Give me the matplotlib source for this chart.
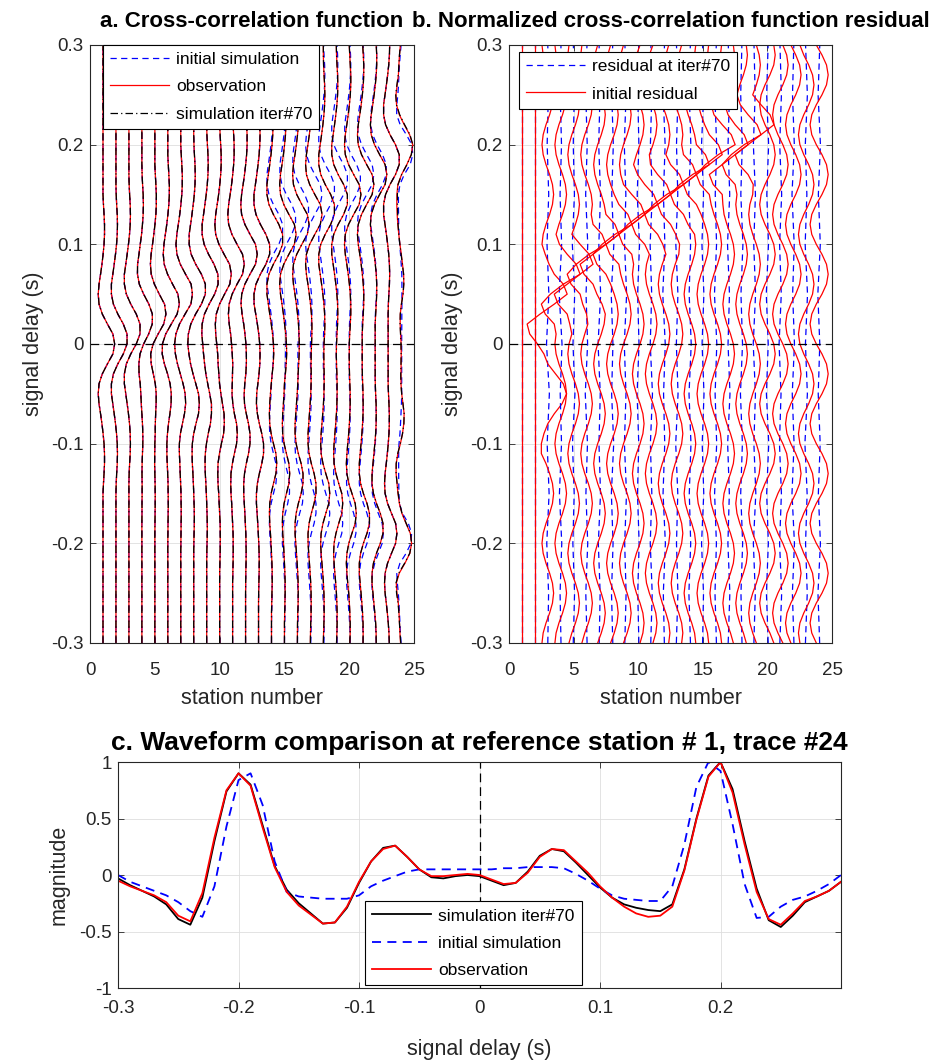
import numpy as np
import matplotlib.pyplot as plt
from matplotlib.lines import Line2D

plt.rcParams['font.family'] = ['Liberation Sans', 'DejaVu Sans']
plt.rcParams['axes.unicode_minus'] = False

# delay samples (s), 10 ms step
delay = np.linspace(-0.3, 0.3, 61)
# coarser delay samples for the iter#70 residual (50 ms step)
delay_coarse = np.linspace(-0.3, 0.3, 13)

stations = list(range(1, 25))

# ---- reference station #1, trace #24 ----
obs_c = [-.05, -.10, -.14, -.18, -.24, -.36, -.41, -.16, .33, .75,
         .90, .79, .42, .07, -.15, -.27, -.35, -.43, -.42, -.28,
         -.06, .12, .23, .26, .16, .05, -.01, -.01, .00, .01,
         .00, -.04, -.08, -.07, .02, .16, .23, .22, .12, .02,
         -.10, -.20, -.28, -.34, -.37, -.36, -.28, .04, .49, .87,
         1.0, .73, .27, -.15, -.39, -.44, -.34, -.23, -.19, -.14, -.06]
iter70_c = [-.03, -.09, -.14, -.19, -.26, -.39, -.44, -.20, .30, .74,
            .90, .80, .44, .08, -.13, -.25, -.34, -.43, -.42, -.29,
            -.07, .12, .24, .26, .16, .05, -.02, -.03, -.01, .00,
            -.01, -.05, -.09, -.07, .03, .17, .23, .21, .11, .00,
            -.11, -.20, -.26, -.29, -.31, -.32, -.26, .05, .50, .88,
            1.0, .76, .30, -.12, -.40, -.46, -.36, -.24, -.19, -.14, -.06]
init_c = [.00, -.06, -.10, -.14, -.18, -.24, -.32, -.37, -.10, .43,
          .84, .90, .62, .12, -.15, -.19, -.20, -.21, -.21, -.21,
          -.18, -.10, -.05, -.01, .03, .05, .05, .05, .05, .05,
          .05, .05, .06, .06, .07, .07, .07, .06, .01, -.05,
          -.12, -.18, -.21, -.22, -.23, -.23, -.10, .27, .78, 1.0,
          .92, .45, -.08, -.38, -.37, -.28, -.22, -.19, -.14, -.08, .00]

# ---- observed cross-correlation, stations 1-23 (peak-normalised) ----
obs_a = [
    [0, 0, 0, 0, 0, 0, 0, 0, 0, 0, 0, 0, 0, 0, 0, 0, .04, .09, .13, .13, .09, .01, -.09, -.21, -.34, -.41, -.34, -.06, .38, .85,
     1.0, .85, .38, -.06, -.34, -.41, -.34, -.21, -.09, .01, .09, .13, .13, .09, .04, 0, 0, 0, 0, 0, 0, 0, 0, 0, 0, 0, 0, 0, 0, 0, 0],
    [0, 0, 0, 0, 0, 0, 0, 0, 0, 0, 0, 0, 0, 0, 0, 0, .02, .06, .11, .13, .11, .05, -.04, -.15, -.27, -.39, -.39, -.22, .16, .63,
     .95, .95, .63, .16, -.22, -.39, -.39, -.27, -.15, -.04, .05, .11, .13, .11, .06, .02, 0, 0, 0, 0, 0, 0, 0, 0, 0, 0, 0, 0, 0, 0, 0],
    [0, 0, 0, 0, 0, 0, 0, 0, 0, 0, 0, 0, 0, 0, 0, 0, 0, .02, .06, .11, .13, .11, .05, -.04, -.15, -.27, -.39, -.39, -.22, .16,
     .63, .95, .95, .63, .16, -.22, -.39, -.39, -.27, -.15, -.04, .05, .11, .13, .11, .06, .02, 0, 0, 0, 0, 0, 0, 0, 0, 0, 0, 0, 0, 0, 0],
    [0, 0, 0, 0, 0, 0, 0, 0, 0, 0, 0, 0, 0, .01, .01, .02, .02, .01, .02, .05, .08, .08, .05, 0, -.05, -.09, -.14, -.24, -.26, -.16,
     .15, .58, .89, .90, .60, .15, -.22, -.38, -.37, -.25, -.14, -.03, .05, .11, .13, .11, .06, .02, 0, 0, 0, 0, 0, 0, 0, 0, 0, 0, 0, 0, 0],
    [0, 0, 0, 0, 0, 0, 0, 0, 0, 0, 0, 0, .01, .02, .03, .03, .02, 0, -.02, -.01, 0, .03, .04, .07, .11, .12, .04, -.13, -.31, -.36,
     -.15, .28, .76, .95, .83, .38, -.04, -.31, -.38, -.32, -.20, -.09, .01, .09, .13, .13, .09, .04, 0, 0, 0, 0, 0, 0, 0, 0, 0, 0, 0, 0, 0],
    [0, 0, 0, 0, 0, 0, 0, 0, 0, 0, 0, .01, .02, .03, .04, .03, .02, -.01, -.05, -.08, -.08, -.03, .06, .18, .28, .30, .20, -.02, -.29, -.48,
     -.46, -.18, .30, .80, .99, .87, .41, -.02, -.31, -.39, -.33, -.21, -.09, .01, .09, .13, .13, .09, .04, 0, 0, 0, 0, 0, 0, 0, 0, 0, 0, 0, 0],
    [0, 0, 0, 0, 0, 0, 0, 0, 0, 0, .01, .02, .03, .04, .03, .02, -.01, -.05, -.08, -.12, -.12, -.03, .14, .32, .42, .38, .20, -.04, -.28, -.46,
     -.53, -.42, -.11, .37, .87, 1.0, .89, .41, -.04, -.33, -.41, -.34, -.21, -.09, .01, .09, .13, .13, .09, .04, 0, 0, 0, 0, 0, 0, 0, 0, 0, 0, 0],
    [0, 0, 0, 0, 0, 0, 0, 0, 0, 0, .01, .03, .05, .05, .03, 0, -.03, -.07, -.12, -.14, -.12, 0, .19, .41, .48, .41, .18, -.06, -.27, -.41,
     -.51, -.46, -.25, .16, .66, 1.0, 1.0, .66, .17, -.22, -.39, -.39, -.27, -.15, -.04, .05, .11, .13, .11, .06, .02, 0, 0, 0, 0, 0, 0, 0, 0, 0, 0],
    [0, 0, 0, 0, 0, 0, 0, 0, 0, .01, .03, .05, .05, .03, 0, -.03, -.07, -.12, -.14, -.12, -.02, .13, .32, .41, .41, .26, .09, -.07, -.18, -.27,
     -.34, -.42, -.39, -.19, .21, .68, .98, .96, .63, .16, -.22, -.39, -.39, -.27, -.15, -.04, .05, .11, .13, .11, .06, .02, 0, 0, 0, 0, 0, 0, 0, 0, 0],
    [0, 0, 0, 0, 0, 0, 0, 0, .02, .04, .05, .05, .04, 0, -.04, -.08, -.14, -.16, -.14, -.02, .15, .34, .40, .38, .24, .11, -.01, -.07, -.13, -.17,
     -.25, -.34, -.37, -.29, -.01, .42, .87, 1.0, .85, .38, -.06, -.34, -.41, -.34, -.21, -.09, .01, .09, .13, .13, .09, .04, 0, 0, 0, 0, 0, 0, 0, 0, 0],
    [0, 0, 0, 0, 0, 0, 0, .02, .04, .05, .05, .04, 0, -.04, -.08, -.14, -.16, -.14, -.02, .15, .34, .40, .34, .15, .02, -.05, -.03, -.01, .01, -.03,
     -.09, -.17, -.29, -.36, -.30, -.04, .38, .85, 1.0, .85, .38, -.06, -.34, -.41, -.34, -.21, -.09, .01, .09, .13, .13, .09, .04, 0, 0, 0, 0, 0, 0, 0, 0],
    [0, 0, 0, 0, 0, 0, .01, .02, .04, .05, .04, .02, -.02, -.06, -.11, -.16, -.16, -.09, .06, .25, .38, .38, .25, .06, -.09, -.12, -.07, .02, .07, .07,
     .03, -.05, -.16, -.30, -.39, -.33, -.06, .38, .85, 1.0, .85, .38, -.06, -.34, -.41, -.34, -.21, -.09, .01, .09, .13, .13, .09, .04, 0, 0, 0, 0, 0, 0, 0],
    [0, 0, 0, 0, 0, .01, .03, .05, .06, .05, .02, -.02, -.07, -.12, -.18, -.18, -.10, .07, .28, .43, .43, .28, .07, -.10, -.18, -.16, -.06, .04, .11, .13,
     .10, .02, -.10, -.24, -.38, -.39, -.22, .16, .63, .95, .95, .63, .16, -.22, -.39, -.39, -.27, -.15, -.04, .05, .11, .13, .11, .06, .02, 0, 0, 0, 0, 0, 0],
    [0, 0, 0, 0, .02, .04, .06, .06, .04, 0, -.04, -.09, -.15, -.18, -.15, -.03, .17, .38, .45, .38, .17, -.03, -.15, -.18, -.15, -.09, -.02, .06, .15, .19,
     .17, .09, -.02, -.15, -.27, -.39, -.39, -.22, .16, .63, .95, .95, .63, .16, -.22, -.39, -.39, -.27, -.15, -.04, .05, .11, .13, .11, .06, .02, 0, 0, 0, 0, 0],
    [0, 0, 0, .02, .04, .06, .06, .04, 0, -.04, -.09, -.15, -.18, -.15, -.03, .17, .38, .45, .38, .17, -.03, -.15, -.18, -.15, -.09, -.04, 0, .08, .15, .19,
     .17, .11, .01, -.09, -.21, -.34, -.41, -.34, -.06, .38, .85, 1.0, .85, .38, -.06, -.34, -.41, -.34, -.21, -.09, .01, .09, .13, .13, .09, .04, 0, 0, 0, 0, 0],
    [0, 0, .01, .03, .06, .07, .06, .03, -.02, -.08, -.14, -.20, -.20, -.11, .08, .32, .48, .48, .32, .08, -.11, -.20, -.20, -.14, -.08, -.02, .03, .06, .11, .15,
     .16, .14, .09, .01, -.09, -.21, -.34, -.41, -.34, -.06, .38, .85, 1.0, .85, .38, -.06, -.34, -.41, -.34, -.21, -.09, .01, .09, .13, .13, .09, .04, 0, 0, 0, 0],
    [0, .01, .03, .06, .07, .06, .03, -.02, -.08, -.14, -.20, -.20, -.11, .08, .32, .48, .48, .32, .08, -.11, -.20, -.20, -.14, -.08, -.02, .03, .06, .07, .06, .07,
     .10, .13, .13, .09, .01, -.09, -.21, -.34, -.41, -.34, -.06, .38, .85, 1.0, .85, .38, -.06, -.34, -.41, -.34, -.21, -.09, .01, .09, .13, .13, .09, .04, 0, 0, 0],
    [0, .02, .05, .07, .07, .05, .01, -.05, -.12, -.19, -.23, -.19, -.03, .21, .47, .55, .47, .21, -.03, -.19, -.23, -.19, -.12, -.05, .01, .05, .07, .07, .05, .04,
     .06, .11, .13, .11, .05, -.04, -.15, -.27, -.39, -.39, -.22, .16, .63, .95, .95, .63, .16, -.22, -.39, -.39, -.27, -.15, -.04, .05, .11, .13, .11, .06, .02, 0, 0],
    [.02, .05, .07, .07, .05, .01, -.05, -.12, -.19, -.23, -.19, -.03, .21, .47, .55, .47, .21, -.03, -.19, -.23, -.19, -.12, -.05, .01, .05, .07, .07, .05, .02, 0,
     .02, .06, .11, .13, .11, .05, -.04, -.15, -.27, -.39, -.39, -.22, .16, .63, .95, .95, .63, .16, -.22, -.39, -.39, -.27, -.15, -.04, .05, .11, .13, .11, .06, .02, 0],
    [.05, .08, .08, .05, .01, -.05, -.13, -.20, -.25, -.20, -.04, .23, .51, .60, .51, .23, -.04, -.20, -.25, -.20, -.13, -.05, .01, .05, .08, .08, .05, .02, 0, 0,
     0, .04, .09, .13, .13, .09, .01, -.09, -.21, -.34, -.41, -.34, -.06, .38, .85, 1.0, .85, .38, -.06, -.34, -.41, -.34, -.21, -.09, .01, .09, .13, .13, .09, .04, 0],
    [.07, .08, .07, .03, -.03, -.10, -.18, -.25, -.25, -.14, .10, .41, .62, .62, .41, .10, -.14, -.25, -.25, -.18, -.10, -.03, .03, .07, .08, .07, .04, .01, 0, 0,
     0, 0, .04, .09, .13, .13, .09, .01, -.09, -.21, -.34, -.41, -.34, -.06, .38, .85, 1.0, .85, .38, -.06, -.34, -.41, -.34, -.21, -.09, .01, .09, .13, .13, .09, .04],
    [.09, .08, .04, -.03, -.11, -.19, -.27, -.27, -.15, .11, .44, .67, .67, .44, .11, -.15, -.27, -.27, -.19, -.11, -.03, .04, .08, .09, .08, .04, .01, 0, 0, 0,
     0, 0, 0, .04, .09, .13, .13, .09, .01, -.09, -.21, -.34, -.41, -.34, -.06, .38, .85, 1.0, .85, .38, -.06, -.34, -.41, -.34, -.21, -.09, .01, .09, .13, .13, .09],
    [.10, .07, .01, -.07, -.16, -.26, -.31, -.26, -.05, .29, .64, .75, .64, .29, -.05, -.26, -.31, -.26, -.16, -.07, .01, .07, .10, .10, .07, .03, 0, 0, 0, 0,
     0, 0, 0, 0, .02, .06, .11, .13, .11, .05, -.04, -.15, -.27, -.39, -.39, -.22, .16, .63, .95, .95, .63, .16, -.22, -.39, -.39, -.27, -.15, -.04, .05, .11, .13],
]

# initial simulation where it departs from the observation (stations 14-22)
init_far = [
    [0, 0, 0, .02, .04, .06, .06, .04, 0, -.04, -.09, -.15, -.18, -.15, -.03, .17, .38, .45, .38, .17, -.03, -.15, -.18, -.15, -.09, -.04, 0, .06, .12, .17,
     .17, .13, .05, -.04, -.15, -.27, -.39, -.39, -.22, .16, .63, .95, .95, .63, .16, -.22, -.39, -.39, -.27, -.15, -.04, .05, .11, .13, .11, .06, .02, 0, 0, 0, 0],
    [0, .01, .03, .05, .06, .05, .02, -.02, -.07, -.12, -.18, -.18, -.10, .07, .28, .43, .43, .28, .07, -.10, -.18, -.18, -.12, -.07, -.02, .02, .05, .06, .07, .09,
     .12, .13, .11, .05, -.04, -.15, -.27, -.39, -.39, -.22, .16, .63, .95, .95, .63, .16, -.22, -.39, -.39, -.27, -.15, -.04, .05, .11, .13, .11, .06, .02, 0, 0, 0],
    [0, .02, .05, .07, .07, .05, .01, -.05, -.11, -.17, -.21, -.17, -.03, .19, .43, .50, .43, .19, -.03, -.17, -.21, -.17, -.11, -.05, .01, .05, .07, .07, .05, .04,
     .06, .11, .13, .11, .05, -.04, -.15, -.27, -.39, -.39, -.22, .16, .63, .95, .95, .63, .16, -.22, -.39, -.39, -.27, -.15, -.04, .05, .11, .13, .11, .06, .02, 0, 0],
    [.03, .06, .07, .06, .03, -.02, -.08, -.14, -.20, -.20, -.11, .08, .32, .48, .48, .32, .08, -.11, -.20, -.20, -.14, -.08, -.02, .03, .06, .07, .06, .03, .01, 0,
     0, .04, .09, .13, .13, .09, .01, -.09, -.21, -.34, -.41, -.34, -.06, .38, .85, 1.0, .85, .38, -.06, -.34, -.41, -.34, -.21, -.09, .01, .09, .13, .13, .09, .04, 0],
    [.05, .07, .07, .05, .01, -.05, -.12, -.19, -.23, -.19, -.03, .21, .47, .55, .47, .21, -.03, -.19, -.23, -.19, -.12, -.05, .01, .05, .07, .07, .05, .02, 0, 0,
     0, .02, .06, .11, .13, .11, .05, -.04, -.15, -.27, -.39, -.39, -.22, .16, .63, .95, .95, .63, .16, -.22, -.39, -.39, -.27, -.15, -.04, .05, .11, .13, .11, .06, .02],
    [.07, .07, .05, .01, -.05, -.12, -.19, -.23, -.19, -.03, .21, .47, .55, .47, .21, -.03, -.19, -.23, -.19, -.12, -.05, .01, .05, .07, .07, .05, .02, 0, 0, 0,
     0, 0, .02, .06, .11, .13, .11, .05, -.04, -.15, -.27, -.39, -.39, -.22, .16, .63, .95, .95, .63, .16, -.22, -.39, -.39, -.27, -.15, -.04, .05, .11, .13, .11, .06],
    [.08, .07, .03, -.02, -.09, -.16, -.23, -.23, -.13, .10, .38, .57, .57, .38, .10, -.13, -.23, -.23, -.16, -.09, -.02, .03, .07, .08, .07, .04, .01, 0, 0, 0,
     0, 0, .02, .06, .11, .13, .11, .05, -.04, -.15, -.27, -.39, -.39, -.22, .16, .63, .95, .95, .63, .16, -.22, -.39, -.39, -.27, -.15, -.04, .05, .11, .13, .11, .06],
    [.08, .07, .03, -.03, -.10, -.18, -.25, -.25, -.14, .10, .41, .62, .62, .41, .10, -.14, -.25, -.25, -.18, -.10, -.03, .03, .07, .08, .07, .04, .01, 0, 0, 0,
     0, 0, 0, .04, .09, .13, .13, .09, .01, -.09, -.21, -.34, -.41, -.34, -.06, .38, .85, 1.0, .85, .38, -.06, -.34, -.41, -.34, -.21, -.09, .01, .09, .13, .13, .09],
    [.09, .06, .01, -.06, -.15, -.24, -.29, -.24, -.04, .27, .60, .70, .60, .27, -.04, -.24, -.29, -.24, -.15, -.06, .01, .06, .09, .09, .06, .03, 0, 0, 0, 0,
     0, 0, 0, .02, .06, .11, .13, .11, .05, -.04, -.15, -.27, -.39, -.39, -.22, .16, .63, .95, .95, .63, .16, -.22, -.39, -.39, -.27, -.15, -.04, .05, .11, .13, .11],
]
# stations 1-13 and 23: initial simulation lies on the observation
init_a = obs_a[:13] + init_far + obs_a[22:]
# iteration 70 overlays the observation for stations 1-23
iter70_a = obs_a

# ---- normalised initial residual, stations 1-24 (station units) ----
resid_init = [
    [0, 0, 0, 0, 0, 0, 0, 0, 0, 0, 0, 0, 0, 0, 0, 0, 0, 0, 0, 0, 0, 0, 0, 0, 0, 0, 0, 0, 0, 0,
     0, 0, 0, 0, 0, 0, 0, 0, 0, 0, 0, 0, 0, 0, 0, 0, 0, 0, 0, 0, 0, 0, 0, 0, 0, 0, 0, 0, 0, 0, 0],
    [0, 0, 0, 0, 0, 0, 0, 0, 0, 0, 0, 0, 0, 0, 0, 0, 0, 0, 0, 0, 0, 0, 0, 0, 0, 0, 0, 0, 0, 0,
     0, 0, 0, 0, 0, 0, 0, 0, 0, 0, 0, 0, 0, 0, 0, 0, 0, 0, 0, 0, 0, 0, 0, 0, 0, 0, 0, 0, 0, 0, 0],
    [-.45, -.36, -.14, .14, .36, .45, .36, .14, -.14, -.36, -.45, -.36, -.14, .14, .36, .45, .36, .14, -.14, -.5,
     -.5, -.3, 0, .5, 1.1, 1.45, 1.2, .6, 0, -.3, -.8, -1.4, -1.6, -.6, .5, 1.5, 1.2, .5, .1, -.2,
     -.45, -.36, -.14, .14, .36, .45, .36, .14, -.14, -.36, -.45, -.36, -.14, .14, .36, .45, .36, .14, -.14, -.36, -.45],
    [-.45, -.36, -.14, .14, .36, .45, .36, .14, -.14, -.36, -.45, -.36, -.14, .14, .36, .45, .36, .14, -.14, -.36,
     -.45, -.36, -.14, .14, .36, .45, .36, .14, -.14, -.36, -.45, -.36, -.5, -1.2, -1.5, -.8, .2, 1.5, 1.2, .5,
     -.1, -.36, -.14, .14, .36, .45, .36, .14, -.14, -.36, -.45, -.36, -.14, .14, .36, .45, .36, .14, -.14, -.36, -.45],
    [-.36, -.14, .14, .36, .45, .36, .14, -.14, -.36, -.45, -.36, -.14, .14, .36, .45, .36, .14, -.14, -.36, -.45,
     -.36, -.14, .14, .36, .45, .36, .14, -.14, -.36, -.45, -.36, -.14, -.3, -.5, -1.2, -1.5, -.5, .5, 1.5, 1.2,
     .5, -.14, .14, .36, .45, .36, .14, -.14, -.36, -.45, -.36, -.14, .14, .36, .45, .36, .14, -.14, -.36, -.45, -.36],
    [-.36, -.14, .14, .36, .45, .36, .14, -.14, -.36, -.45, -.36, -.14, .14, .36, .45, .36, .14, -.14, -.36, -.45,
     -.36, -.14, .14, .36, .45, .36, .14, -.14, -.36, -.45, -.36, -.14, .1, 0, -.3, -.5, -1.2, -1.5, -.8, .2,
     1.5, 1.2, .5, .36, .45, .36, .14, -.14, -.36, -.45, -.36, -.14, .14, .36, .45, .36, .14, -.14, -.36, -.45, -.36],
    [-.14, .14, .36, .45, .36, .14, -.14, -.36, -.45, -.36, -.14, .14, .36, .45, .36, .14, -.14, -.36, -.45, -.36,
     -.14, .14, .36, .45, .36, .14, -.14, -.36, -.45, -.36, -.14, .14, .36, .45, .2, -.2, -.5, -1.2, -1.5, -.5,
     .5, 1.5, 1.2, .5, .36, .14, -.14, -.36, -.45, -.36, -.14, .14, .36, .45, .36, .14, -.14, -.36, -.45, -.36, -.14],
    [-.14, .14, .36, .45, .36, .14, -.14, -.36, -.45, -.36, -.14, .14, .36, .45, .36, .14, -.14, -.36, -.45, -.36,
     -.14, .14, .36, .45, .36, .14, -.14, -.36, -.45, -.36, -.14, .14, .36, .45, .36, .14, -.14, -.5, -1.2, -1.5,
     -.8, .2, 1.5, 1.2, .5, .14, -.14, -.36, -.45, -.36, -.14, .14, .36, .45, .36, .14, -.14, -.36, -.45, -.36, -.14],
    [-.14, .14, .36, .45, .36, .14, -.14, -.36, -.45, -.36, -.14, .14, .36, .45, .36, .14, -.14, -.36, -.45, -.36,
     -.14, .14, .36, .45, .36, .14, -.14, -.36, -.45, -.36, -.14, .14, .36, .45, .36, .14, -.14, -.36, -.5, -1.2,
     -1.5, -.5, .5, 1.5, 1.2, .5, -.14, -.36, -.45, -.36, -.14, .14, .36, .45, .36, .14, -.14, -.36, -.45, -.36, -.14],
    [.14, .36, .45, .36, .14, -.14, -.36, -.45, -.36, -.14, .14, .36, .45, .36, .14, -.14, -.36, -.45, -.36, -.14,
     .14, .36, .45, .36, .14, -.14, -.36, -.45, -.36, -.14, .14, .36, .45, .36, .14, -.14, -.36, -.45, -.36, -.5,
     -1.2, -1.5, -.8, .2, 1.5, 1.2, .5, -.05, -.36, -.14, .14, .36, .45, .36, .14, -.14, -.36, -.45, -.36, -.14, .14],
    [.14, .36, .45, .36, .14, -.14, -.36, -.45, -.36, -.14, .14, .36, .45, .36, .14, -.14, -.36, -.45, -.36, -.14,
     .14, .36, .45, .36, .14, -.14, -.36, -.45, -.36, -.14, .14, .36, .45, .36, .14, -.14, -.36, -.45, -.36, -.14,
     -.5, -1.2, -1.5, -.5, .5, 1.5, 1.2, .5, -.05, -.14, .14, .36, .45, .36, .14, -.14, -.36, -.45, -.36, -.14, .14],
    [.36, .45, .36, .14, -.14, -.36, -.45, -.36, -.14, .14, .36, .45, .36, .14, -.14, -.36, -.45, -.36, -.14, .14,
     .36, .45, .36, .14, -.14, -.36, -.45, -.36, -.14, .14, .36, .45, .36, .14, -.14, -.36, -.45, -.36, -.14, .14,
     -.1, -.5, -1.2, -1.5, -.8, .2, 1.5, 1.2, .5, .14, .36, .45, .36, .14, -.14, -.36, -.45, -.36, -.14, .14, .36],
    [.36, .45, .36, .14, -.14, -.36, -.45, -.36, -.14, .14, .36, .45, .36, .14, -.14, -.36, -.45, -.36, -.14, .14,
     .36, .45, .36, .14, -.14, -.36, -.45, -.36, -.14, .14, .36, .45, .36, .14, -.14, -.36, -.45, -.36, -.14, .14,
     .2, -.1, -.5, -1.2, -1.5, -.5, .5, 1.5, 1.2, .5, .36, .45, .36, .14, -.14, -.36, -.45, -.36, -.14, .14, .36],
    [.45, .36, .14, -.14, -.36, -.45, -.36, -.14, .14, .36, .45, .36, .14, -.14, -.36, -.45, -.36, -.14, .14, .36,
     .45, .36, .14, -.14, -.36, -.45, -.36, -.14, .14, .36, .45, .36, .14, -.14, -.36, -.45, -.36, -.14, .14, .36,
     .45, .36, -.15, -.5, -1.2, -1.5, -.8, .2, 1.5, 1.2, .5, .36, .14, -.14, -.36, -.45, -.36, -.14, .14, .36, .45],
    [.45, .36, .14, -.14, -.36, -.45, -.36, -.14, .14, .36, .45, .36, .14, -.14, -.36, -.45, -.36, -.14, .14, .36,
     .45, .36, .14, -.14, -.36, -.45, -.36, -.14, .14, .36, .45, .36, .14, -.14, -.36, -.45, -.36, -.14, .14, .36,
     .45, .36, .14, -.14, -.5, -1.2, -1.5, -.5, .5, 1.5, 1.2, .5, .14, -.14, -.36, -.45, -.36, -.14, .14, .36, .45],
    [.45, .36, .14, -.14, -.36, -.45, -.36, -.14, .14, .36, .45, .36, .14, -.14, -.36, -.45, -.36, -.14, .14, .36,
     .45, .36, .14, -.14, -.36, -.45, -.36, -.14, .14, .36, .45, .36, .14, -.14, -.36, -.45, -.36, -.14, .14, .36,
     .45, .36, .14, -.14, -.36, -.5, -1.2, -1.5, -.8, .2, 1.5, 1.2, .5, -.14, -.36, -.45, -.36, -.14, .14, .36, .45],
    [.36, .14, -.14, -.36, -.45, -.36, -.14, .14, .36, .45, .36, .14, -.14, -.36, -.45, -.36, -.14, .14, .36, .45,
     .36, .14, -.14, -.36, -.45, -.36, -.14, .14, .36, .45, .36, .14, -.14, -.36, -.45, -.36, -.14, .14, .36, .45,
     .36, .14, -.14, -.36, -.45, -.5, -1.2, -1.5, -.5, .5, 1.5, 1.2, .5, -.05, -.3, -.36, -.14, .14, .36, .45, .36],
    [.36, .14, -.14, -.36, -.45, -.36, -.14, .14, .36, .45, .36, .14, -.14, -.36, -.45, -.36, -.14, .14, .36, .45,
     .36, .14, -.14, -.36, -.45, -.36, -.14, .14, .36, .45, .36, .14, -.14, -.36, -.45, -.36, -.14, .14, .36, .45,
     .36, .14, -.14, -.36, -.45, -.36, -.5, -1.2, -1.5, -.8, .2, 1.5, 1.2, .5, -.1, -.36, -.14, .14, .36, .45, .36],
    [.14, -.14, -.36, -.45, -.36, -.14, .14, .36, .45, .36, .14, -.14, -.36, -.45, -.36, -.14, .14, .36, .45, .36,
     .14, -.14, -.36, -.45, -.36, -.14, .14, .36, .45, .36, .14, -.14, -.36, -.45, -.36, -.14, .14, .36, .45, .36,
     .14, -.14, -.36, -.45, -.36, -.14, -.1, -.5, -1.2, -1.5, -.5, .5, 1.5, 1.2, .5, -.14, .14, .36, .45, .36, .14],
    [.49, .19, -.19, -.49, -.6, -.49, -.19, .19, .49, .6, .49, .19, -.19, -.49, -.6, -.49, -.19, .19, .49, .6,
     .49, .19, -.19, -.49, -.6, -.49, -.19, .19, .49, .6, .49, .19, -.19, -.49, -.6, -.49, -.19, .19, .49, .6,
     .49, .19, -.19, -.49, -.6, -.49, -.19, .19, .49, .6, .49, .19, -.19, -.49, -.6, -.49, -.19, .19, .49, .6, .49],
    [.19, -.19, -.49, -.6, -.49, -.19, .19, .49, .6, .49, .19, -.19, -.49, -.6, -.49, -.19, .19, .49, .6, .49,
     .19, -.19, -.49, -.6, -.49, -.19, .19, .49, .6, .49, .19, -.19, -.49, -.6, -.49, -.19, .19, .49, .6, .49,
     .19, -.19, -.49, -.6, -.49, -.19, .19, .49, .6, .49, .19, -.19, -.49, -.6, -.49, -.19, .19, .49, .6, .49, .19],
    [-.19, -.49, -.6, -.49, -.19, .19, .49, .6, .49, .19, -.19, -.49, -.6, -.49, -.19, .19, .49, .6, .49, .19,
     -.19, -.49, -.6, -.49, -.19, .19, .49, .6, .49, .19, -.19, -.49, -.6, -.49, -.19, .19, .49, .6, .49, .19,
     -.19, -.49, -.6, -.49, -.19, .19, .49, .6, .49, .19, -.19, -.49, -.6, -.49, -.19, .19, .49, .6, .49, .19, -.19],
    [-.49, -.6, -.49, -.19, .19, .49, .6, .49, .19, -.19, -.49, -.6, -.49, -.19, .19, .49, .6, .49, .19, -.19,
     -.49, -.6, -.49, -.19, .19, .49, .6, .49, .19, -.19, -.49, -.6, -.49, -.19, .19, .49, .6, .49, .19, -.19,
     -.49, -.6, -.49, -.19, .19, .49, .6, .49, .19, -.19, -.49, -.6, -.49, -.19, .19, .49, .6, .49, .19, -.19, -.49],
    [-.22, -.57, -.7, -.57, -.22, .22, .57, .7, .57, .22, -.22, -.57, -.7, -.57, -.22, .22, .57, .7, .57, .22,
     -.22, -.57, -.7, -.57, -.22, .22, .57, .7, .57, .22, -.22, -.57, -.7, -.57, -.22, .22, .57, .7, .57, .22,
     -.22, -.57, -.7, -.57, -.22, .22, .57, .7, .57, .22, -.22, -.57, -.7, -.57, -.22, .22, .57, .7, .57, .22, -.22],
]

# ---- residual after 70 iterations, stations 1-24 (station units, 50 ms step) ----
resid_iter = [
    [0, 0, 0, 0, 0, 0, 0, 0, 0, 0, 0, 0, 0],
    [0, 0, 0, 0, 0, 0, 0, 0, 0, 0, 0, 0, 0],
    [0, .06, -.08, .10, -.05, .12, -.10, .08, -.06, .07, -.05, .04, 0],
    [.02, -.05, .08, -.10, .06, -.04, .10, -.12, .07, -.05, .06, -.04, .02],
    [-.03, .07, -.06, .04, -.09, .10, -.05, .08, -.10, .06, -.03, .05, -.02],
    [.04, -.06, .09, -.05, .07, -.10, .08, -.04, .09, -.07, .05, -.06, .03],
    [-.02, .05, -.09, .08, -.04, .06, -.11, .09, -.05, .08, -.06, .04, -.03],
    [.03, -.07, .05, -.08, .10, -.06, .04, -.09, .11, -.05, .07, -.05, .02],
    [-.04, .06, -.05, .09, -.07, .05, -.08, .10, -.06, .04, -.08, .06, -.03],
    [.05, -.04, .07, -.06, .04, -.09, .06, -.05, .10, -.08, .05, -.04, .04],
    [-.03, .08, -.07, .05, -.06, .10, -.07, .04, -.08, .09, -.06, .05, -.02],
    [.02, -.06, .10, -.08, .05, -.04, .09, -.10, .06, -.05, .08, -.07, .03],
    [-.05, .07, -.04, .06, -.10, .08, -.05, .07, -.09, .06, -.04, .08, -.04],
    [.04, -.08, .06, -.05, .08, -.07, .10, -.06, .05, -.09, .07, -.05, .03],
    [-.02, .05, -.10, .07, -.05, .09, -.06, .08, -.07, .05, -.10, .06, -.02],
    [.05, -.06, .05, -.09, .07, -.05, .08, -.10, .06, -.04, .07, -.08, .04],
    [-.04, .09, -.06, .05, -.08, .10, -.05, .06, -.09, .08, -.05, .06, -.03],
    [.03, -.05, .08, -.07, .06, -.09, .07, -.05, .10, -.06, .05, -.07, .02],
    [-.05, .06, -.09, .10, -.05, .07, -.10, .08, -.06, .07, -.09, .05, -.04],
    [.06, -.08, .07, -.06, .10, -.08, .06, -.09, .08, -.05, .09, -.06, .05],
    [-.04, .10, -.06, .08, -.07, .05, -.10, .07, -.06, .10, -.05, .08, -.03],
    [.05, -.07, .09, -.10, .06, -.08, .09, -.05, .07, -.10, .08, -.06, .04],
    [-.06, .08, -.05, .07, -.10, .09, -.06, .10, -.08, .05, -.07, .09, -.05],
    [.04, -.09, .10, -.06, .08, -.07, .05, -.10, .09, -.06, .10, -.08, .05],
]

gain = 0.9          # trace amplitude in station units
lw = 0.9
c_blue, c_red, c_black = '#0000ff', '#ff0000', '#000000'
dash_blue = (5, 3.5)
dash_black = (6, 2.5, 1, 2.5)
ink = '#262626'
delay_ticks = [-0.3, -0.2, -0.1, 0, 0.1, 0.2, 0.3]
delay_labels = ['-0.3', '-0.2', '-0.1', '0', '0.1', '0.2', '0.3']


def style_axes(ax, xpad):
    ax.tick_params(direction='in', top=True, right=True, length=4,
                   width=0.6, colors=ink, labelsize=13.5)
    ax.tick_params(axis='x', pad=xpad)
    ax.tick_params(axis='y', pad=4.5)
    ax.grid(True, color='#dedede', lw=0.6)
    ax.set_axisbelow(True)
    for sp in ax.spines.values():
        sp.set_color(ink)
        sp.set_linewidth(0.8)


def add_legend(ax, handles, labels, anchor, loc):
    leg = ax.legend(handles, labels, loc=loc, bbox_to_anchor=anchor, borderaxespad=0,
                    fontsize=12.5, handlelength=3.4, handletextpad=0.4, labelspacing=0.7,
                    fancybox=False, framealpha=1, edgecolor='k')
    leg.get_frame().set_linewidth(0.8)


fig = plt.figure(figsize=(9.33, 10.61), dpi=100)
ax_a = fig.add_axes([0.0965, 0.3940, 0.3473, 0.5636])
ax_b = fig.add_axes([0.5456, 0.3940, 0.3462, 0.5636])
ax_c = fig.add_axes([0.1265, 0.0688, 0.7749, 0.2130])

# a. cross-correlation gather
for k in stations:
    if k == 24:
        ini, obs, it70 = init_c, obs_c, iter70_c
    else:
        ini, obs, it70 = init_a[k - 1], obs_a[k - 1], iter70_a[k - 1]
    ax_a.plot(k + gain * np.array(ini), delay, color=c_blue, lw=lw, dashes=dash_blue)
    ax_a.plot(k + gain * np.array(obs), delay, color=c_red, lw=lw)
    ax_a.plot(k + gain * np.array(it70), delay, color=c_black, lw=lw, dashes=dash_black)
ax_a.axhline(0, color='k', lw=0.9, dashes=(7, 4))

# b. normalised residual gather
for k in stations:
    ax_b.plot(k + np.array(resid_iter[k - 1]), delay_coarse, color=c_blue, lw=lw, dashes=dash_blue)
    ax_b.plot(k + np.array(resid_init[k - 1]), delay, color=c_red, lw=lw)
ax_b.axhline(0, color='k', lw=0.9, dashes=(7, 4))

for ax in (ax_a, ax_b):
    ax.set_xlim(0, 25)
    ax.set_ylim(-0.3, 0.3)
    ax.set_xticks(range(0, 26, 5))
    ax.set_yticks(delay_ticks)
    ax.set_yticklabels(delay_labels)
    style_axes(ax, xpad=14)
    ax.set_xlabel('station number', fontsize=15.5, color=ink, labelpad=6)
    ax.set_ylabel('signal delay (s)', fontsize=15.5, color=ink, labelpad=5)

ax_a.set_title('a. Cross-correlation function', fontsize=16, fontweight='bold', pad=13)
ax_b.set_title('b. Normalized cross-correlation function residual', fontsize=16,
               fontweight='bold', pad=13)

add_legend(ax_a,
           [Line2D([], [], color=c_blue, lw=lw, dashes=dash_blue),
            Line2D([], [], color=c_red, lw=lw),
            Line2D([], [], color=c_black, lw=lw, dashes=dash_black)],
           ['initial simulation', 'observation', 'simulation iter#70'],
           (0.04, 1.0), 'upper left')
add_legend(ax_b,
           [Line2D([], [], color=c_blue, lw=lw, dashes=dash_blue),
            Line2D([], [], color=c_red, lw=lw)],
           ['residual at iter#70', 'initial residual'],
           (0.031, 0.988), 'upper left')

# c. waveform comparison
ax_c.axvline(0, color='k', lw=0.9, dashes=(7, 4))
h1, = ax_c.plot(delay, iter70_c, color=c_black, lw=1.3)
h2, = ax_c.plot(delay, init_c, color=c_blue, lw=1.3, dashes=dash_blue)
h3, = ax_c.plot(delay, obs_c, color=c_red, lw=1.3)
ax_c.set_xlim(-0.3, 0.3)
ax_c.set_ylim(-1, 1)
ax_c.set_xticks([-0.3, -0.2, -0.1, 0, 0.1, 0.2])
ax_c.set_xticklabels(['-0.3', '-0.2', '-0.1', '0', '0.1', '0.2'])
ax_c.set_yticks([-1, -0.5, 0, 0.5, 1])
ax_c.set_yticklabels(['-1', '-0.5', '0', '0.5', '1'])
style_axes(ax_c, xpad=8.5)
ax_c.set_xlabel('signal delay (s)', fontsize=15.5, color=ink, labelpad=16)
ax_c.set_ylabel('magnitude', fontsize=15.5, color=ink, labelpad=7)
ax_c.set_title('c. Waveform comparison at reference station # 1, trace #24',
               fontsize=19, fontweight='bold', pad=9)
add_legend(ax_c, [h1, h2, h3], ['simulation iter#70', 'initial simulation', 'observation'],
           (0.342, 0.013), 'lower left')

fig.savefig('out.png', dpi=100)
